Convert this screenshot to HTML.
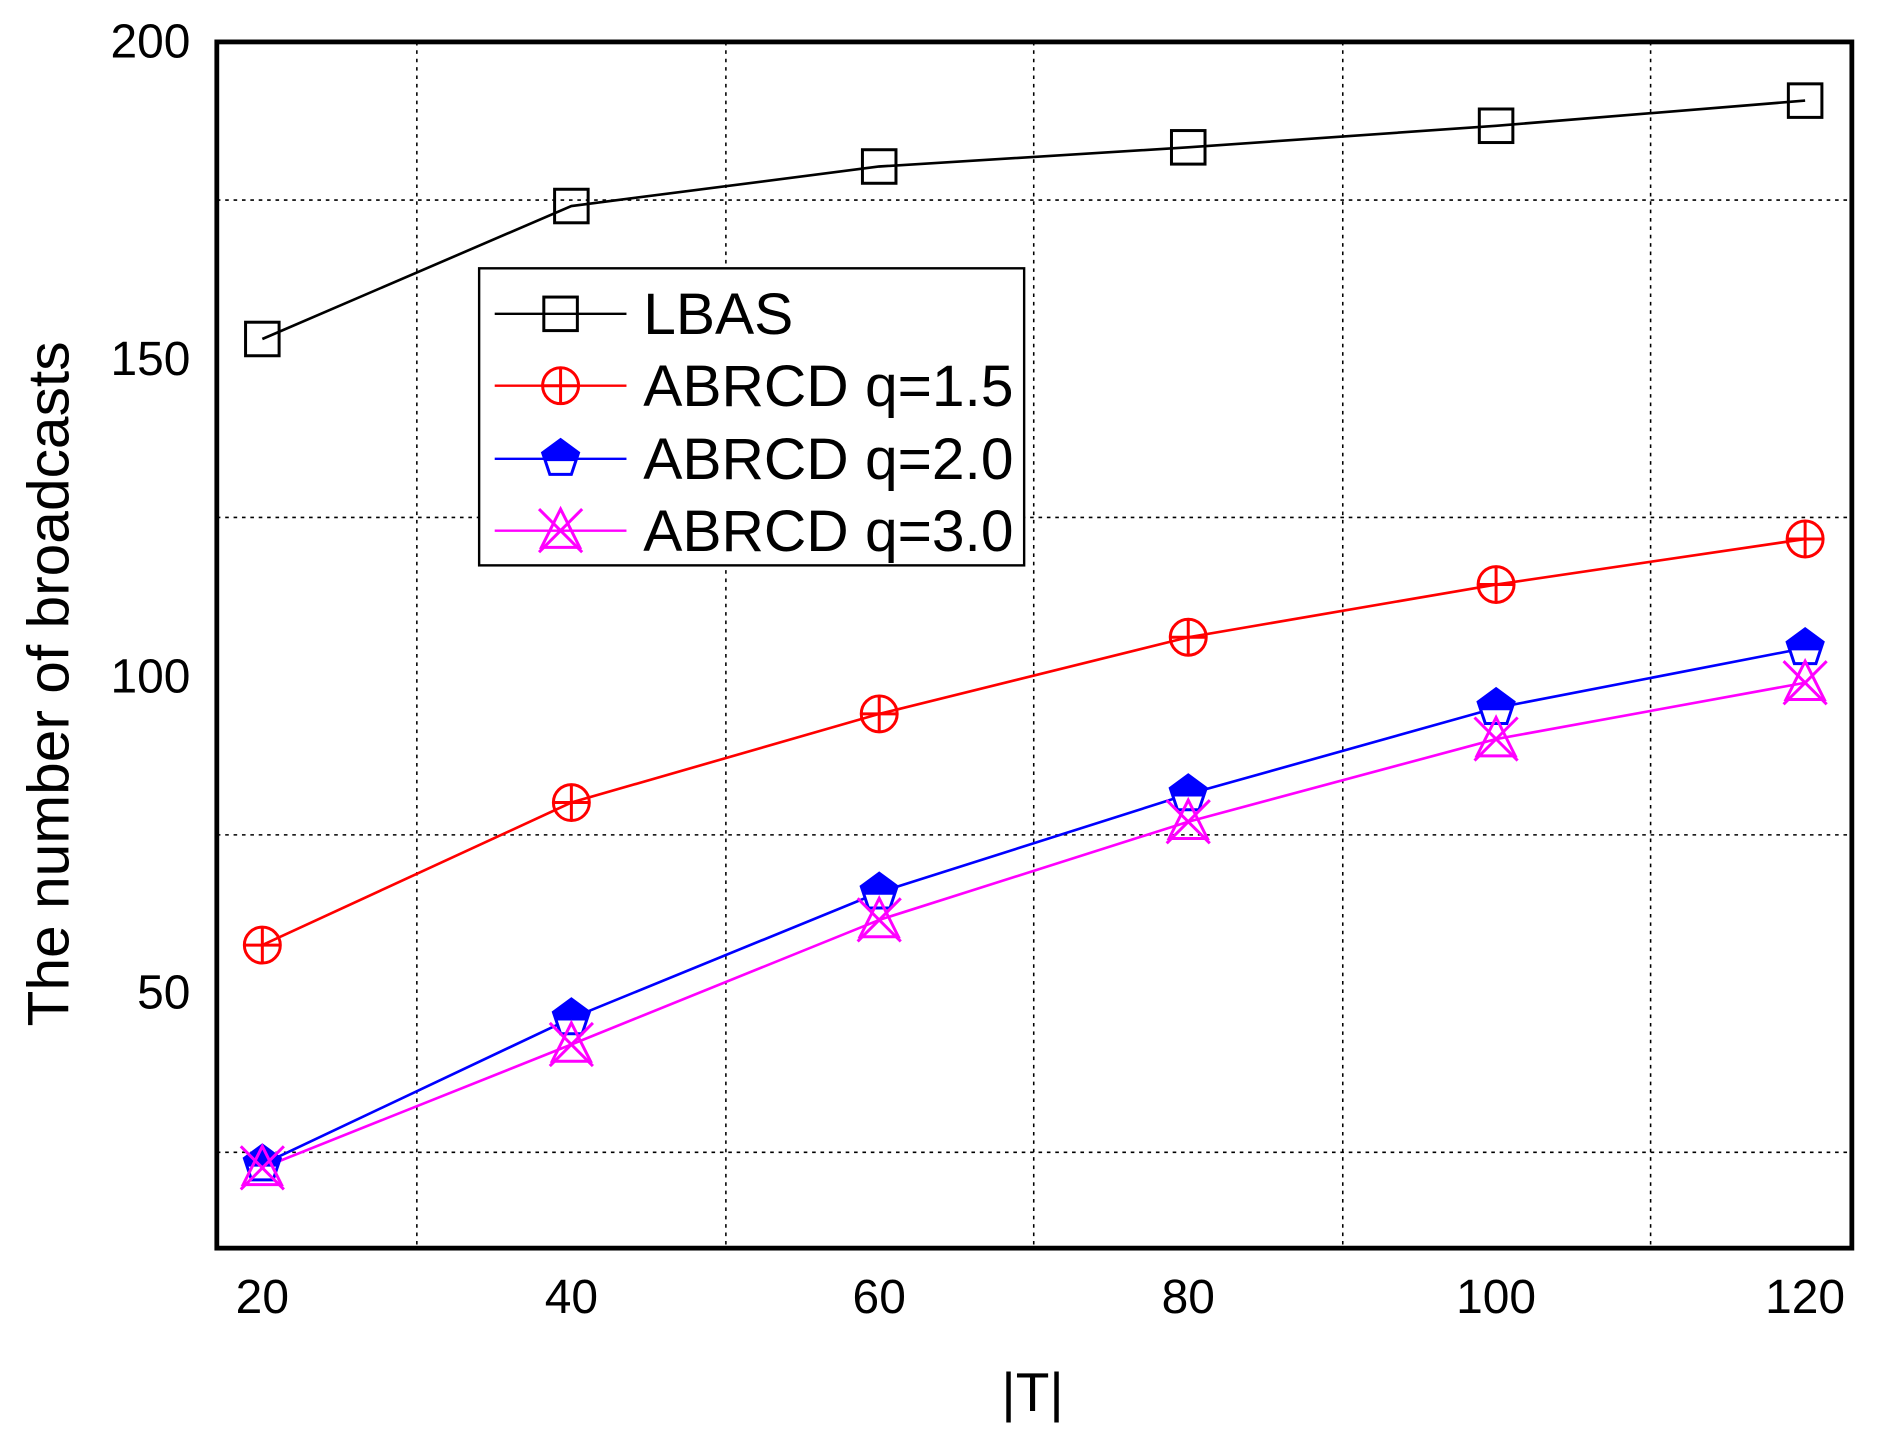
<!DOCTYPE html>
<html><head><meta charset="utf-8"><style>html,body{margin:0;padding:0;background:#fff}svg{display:block}</style></head>
<body>
<svg width="1877" height="1432" viewBox="0 0 1567 1195.5" xmlns="http://www.w3.org/2000/svg" font-family="Liberation Sans, sans-serif">
<defs>
<g id="sq"><rect x="-14" y="-14" width="28" height="28" fill="none" stroke="#000" stroke-width="2.5"/></g>
<g id="ci"><circle r="15" fill="none" stroke="#f00" stroke-width="2.5"/><path d="M-15 0H15M0 -15V15" stroke="#f00" stroke-width="2.5"/></g>
<g id="pe"><path d="M0 -16 L15 -5 L9 13 L-9 13 L-15 -5Z" fill="#fff" stroke="#00f" stroke-width="2.5"/><path d="M0 -16 L15 -5 L13 2 L-13 2 L-15 -5Z" fill="#00f"/></g>
<g id="xx" fill="none" stroke="#f0f" stroke-width="2.5"><path d="M-18 -18L18 18M18 -18L-18 18"/><path d="M0 -18L16 14L-16 14Z"/></g>
</defs>
<g stroke="#000" stroke-width="1.3" stroke-dasharray="3,4">
<path d="M348 35V1042M606 35V1042M863 35V1042M1121 35V1042M1378 35V1042"/>
<path d="M181 167H1546M181 432H1546M181 697H1546M181 962H1546"/>
</g>
<rect x="181" y="35" width="1365" height="1007" fill="none" stroke="#000" stroke-width="4"/>
<g font-size="40" text-anchor="middle" fill="#000">
<text x="219" y="1096">20</text><text x="477" y="1096">40</text><text x="734" y="1096">60</text><text x="992" y="1096">80</text><text x="1249" y="1096">100</text><text x="1507" y="1096">120</text>
</g>
<g font-size="40" text-anchor="end" fill="#000">
<text x="159" y="48">200</text><text x="159" y="313">150</text><text x="159" y="578">100</text><text x="159" y="842">50</text>
</g>
<text x="862" y="1178" font-size="46" text-anchor="middle">|T|</text>
<text transform="translate(57 571) rotate(-90)" font-size="49" text-anchor="middle">The number of broadcasts</text>
<polyline fill="none" stroke="#000" stroke-width="2.2" points="219,283 477,172 734,139 992,123 1249,105 1507,84"/>
<polyline fill="none" stroke="#f00" stroke-width="2.2" points="219,789 477,670 734,596 992,532 1249,488 1507,450"/>
<polyline fill="none" stroke="#00f" stroke-width="2.2" points="219,972 477,850 734,745 992,663 1249,591 1507,541"/>
<polyline fill="none" stroke="#f0f" stroke-width="2.2" points="219,975 477,872 734,768 992,686 1249,617 1507,570"/>
<g><use href="#sq" x="219" y="283"/><use href="#sq" x="477" y="172"/><use href="#sq" x="734" y="139"/><use href="#sq" x="992" y="123"/><use href="#sq" x="1249" y="105"/><use href="#sq" x="1507" y="84"/></g>
<g><use href="#ci" x="219" y="789"/><use href="#ci" x="477" y="670"/><use href="#ci" x="734" y="596"/><use href="#ci" x="992" y="532"/><use href="#ci" x="1249" y="488"/><use href="#ci" x="1507" y="450"/></g>
<g><use href="#pe" x="219" y="972"/><use href="#pe" x="477" y="850"/><use href="#pe" x="734" y="745"/><use href="#pe" x="992" y="663"/><use href="#pe" x="1249" y="591"/><use href="#pe" x="1507" y="541"/></g>
<g><use href="#xx" x="219" y="975"/><use href="#xx" x="477" y="872"/><use href="#xx" x="734" y="768"/><use href="#xx" x="992" y="686"/><use href="#xx" x="1249" y="617"/><use href="#xx" x="1507" y="570"/></g>
<rect x="400" y="224" width="455" height="248" fill="#fff" stroke="#000" stroke-width="2"/>
<path d="M413 262H523" stroke="#000" stroke-width="2"/><use href="#sq" x="468" y="262"/>
<path d="M413 322H523" stroke="#f00" stroke-width="2"/><use href="#ci" x="468" y="322"/>
<path d="M413 383H523" stroke="#00f" stroke-width="2"/><use href="#pe" x="468" y="383"/>
<path d="M413 443H523" stroke="#f0f" stroke-width="2"/><use href="#xx" x="468" y="443"/>
<g font-size="49" fill="#000">
<text x="537" y="279">LBAS</text><text x="537" y="339">ABRCD q=1.5</text><text x="537" y="400">ABRCD q=2.0</text><text x="537" y="460">ABRCD q=3.0</text>
</g>
</svg>
</body></html>
